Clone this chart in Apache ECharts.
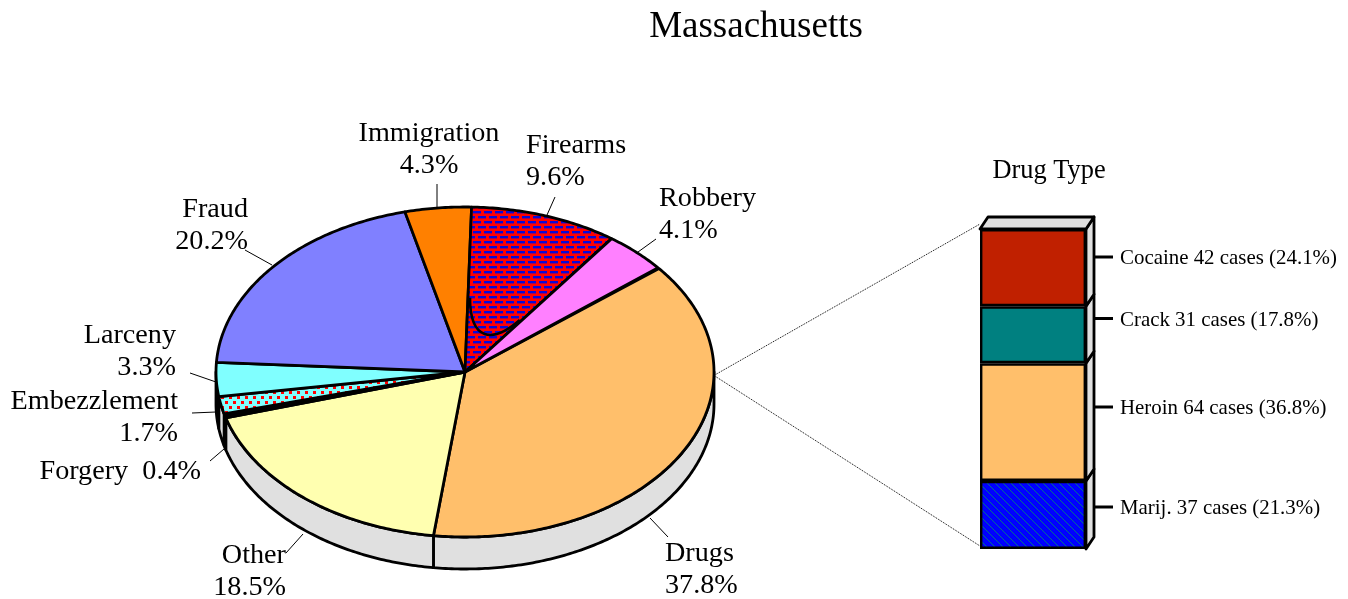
<!DOCTYPE html>
<html><head><meta charset="utf-8">
<script src="https://cdn.jsdelivr.net/npm/echarts@6/dist/echarts.min.js"></script>
<style>html,body{margin:0;padding:0;background:#fff}#c{width:1348px;height:599px}</style>
</head><body><div id="c"></div>
<script>
// ---- data ----
const offenseNames = ['Drugs','Other','Forgery','Embezzlement','Larceny','Fraud','Immigration','Firearms','Robbery'];
const offensePct   = [37.8,18.5,0.4,1.7,3.3,20.2,4.3,9.6,4.1];
const drugNames    = ['Marij.','Heroin','Crack','Cocaine'];
const drugCases    = [37,64,31,42];
const drugPct      = [21.3,36.8,17.8,24.1];

// ---- layout & style (not data) ----
const FONT = '"Liberation Serif","Times New Roman",serif';
const PIE = {cx:465, cy:372, rx:249, ry:165, depth:32, startDeg:-38.8};
const offenseFill = {Drugs:'#FFBF6B',Other:'#FFFFB0',Forgery:'#000000',Embezzlement:'dots',Larceny:'#80FFFF',Fraud:'#8080FF',Immigration:'#FF8000',Firearms:'bricks',Robbery:'#FF80FF'};
const labelLayout = {
  Drugs:{x:665,y:538,align:'left'}, Other:{x:286,y:540,align:'right'},
  Forgery:{x:201,y:456,align:'right',single:true}, Embezzlement:{x:178,y:385.5,align:'right'},
  Larceny:{x:176,y:320,align:'right'}, Fraud:{x:248,y:193.5,align:'right'},
  Immigration:{x:429,y:118,align:'center'}, Firearms:{x:526,y:130,align:'left'}, Robbery:{x:659,y:182.5,align:'left'}
};
const leaderLayout = {
  Drugs:[[650,518],[668,537]], Other:[[303,534],[286,553]], Forgery:[[224,449],[210,461]],
  Embezzlement:[[216,412],[192,413]], Larceny:[[216,382],[190,373]], Fraud:[[272,265],[245,250]],
  Immigration:[[437,207],[437,184]], Firearms:[[547,215],[555,197]], Robbery:[[638,252],[656,239]]
};
const drugFill = {'Marij.':'hatch',Heroin:'#FFBF6B',Crack:'#008080',Cocaine:'#C02000'};
const drugTickY = {'Marij.':507,Heroin:407,Crack:318.5,Cocaine:257};
const BAR = {left:980, top:229, width:106, height:320, dx:8, dy:-12};

function tile(w,h,bg,draw){const c=document.createElement('canvas');c.width=w;c.height=h;const g=c.getContext('2d');g.fillStyle=bg;g.fillRect(0,0,w,h);draw(g);return {image:c,repeat:'repeat'};}
const patterns = {
  bricks: tile(22,10,'#FF0000',g=>{g.fillStyle='#0808D8';g.fillRect(0,1,8,2.4);g.fillRect(11,1,8,2.4);g.fillRect(5,6,8,2.4);g.fillRect(16,6,6,2.4);g.fillRect(0,6,2,2.4);}),
  dots: tile(16,10,'#80FFFF',g=>{g.fillStyle='#FF0000';g.fillRect(1,1,3,3);g.fillRect(9,1,3,3);g.fillRect(5,6,3,3);g.fillRect(13,6,3,3);}),
  hatch: tile(8,8,'#0000FF',g=>{g.fillStyle='#00708C';for(let i=0;i<8;i++){g.fillRect(i,i,1,1);}})
};
const fillOf = v => patterns[v] || v;

// slice angles derive from the percentages
const sliceAngles = []; { let a=PIE.startDeg; offensePct.forEach(p=>{sliceAngles.push([a,a+p*3.6]);a+=p*3.6;}); }
const ell=(deg,dy=0)=>{const t=deg*Math.PI/180;return [PIE.cx+PIE.rx*Math.cos(t),PIE.cy+PIE.ry*Math.sin(t)+dy];};
const rel=(u,v)=>[PIE.cx+PIE.rx*u,PIE.cy+PIE.ry*v];
function arc(a,b,dy=0){const n=Math.max(2,Math.ceil(Math.abs(b-a)/0.7));const o=[];for(let i=0;i<=n;i++)o.push(ell(a+(b-a)*i/n,dy));return o;}
const STROKE={stroke:'#000',lineWidth:2.8,lineJoin:'round'};

// cumulative drug stack
const drugCum=[];{let s=0;drugCases.forEach(v=>{drugCum.push([s,s+v]);s+=v;});}
const drugTotal=drugCum[drugCum.length-1][1];

const chart=echarts.init(document.getElementById('c'),null,{renderer:'canvas'});
chart.setOption({
  animation:false,
  title:[
    {text:'Massachusetts',left:751,top:4,textAlign:'center',textStyle:{fontFamily:FONT,fontSize:37,fontWeight:'normal',color:'#000'}},
    {text:'Drug Type',left:1044,top:153,textAlign:'center',textStyle:{fontFamily:FONT,fontSize:26.4,fontWeight:'normal',color:'#000'}}
  ],
  grid:{left:BAR.left,top:BAR.top,width:BAR.width,height:BAR.height},
  xAxis:{type:'category',data:['Drug Type'],show:false,boundaryGap:true},
  yAxis:{type:'value',min:0,max:drugTotal,show:false},
  series:[
    // pie side wall
    {type:'custom',name:'wall',coordinateSystem:'none',z:1,silent:true,
     data:offensePct.map((v,i)=>({name:offenseNames[i],value:v})),
     renderItem:(p,api)=>{const i=p.dataIndex;const a=Math.max(sliceAngles[i][0],0),b=Math.min(sliceAngles[i][1],180);
       if(b<=a)return {type:'group',children:[]};
       const top=arc(a,b),bot=arc(b,a,PIE.depth);
       return {type:'polygon',shape:{points:top.concat(bot)},style:{fill:offenseNames[i]==='Forgery'?'#000':'#E0E0E0',...STROKE}};}},
    // pie top
    {type:'custom',name:'Offense',coordinateSystem:'none',z:2,silent:true,
     data:offensePct.map((v,i)=>({name:offenseNames[i],value:v})),
     renderItem:(p,api)=>{const i=p.dataIndex;const [a,b]=sliceAngles[i];const n=offenseNames[i];
       const kids=[{type:'polygon',shape:{points:[[PIE.cx,PIE.cy]].concat(arc(a,b))},style:{fill:fillOf(offenseFill[n]),...STROKE}}];
       if(n==='Firearms'){kids.push({type:'path',shape:{pathData:(()=>{
           const A=rel(0.02,-0.45),B=rel(0.02,-0.19),C=rel(0.11,-0.17),D=rel(0.22,-0.315);
           return `M${A[0]} ${A[1]}C${B[0]} ${B[1]} ${C[0]} ${C[1]} ${D[0]} ${D[1]}`;})(),layout:'cover'},
           style:{fill:'none',stroke:'#000',lineWidth:2.6}});}
       return {type:'group',children:kids};}},
    // pie labels & leaders
    {type:'custom',name:'labels',coordinateSystem:'none',z:3,silent:true,
     data:offensePct.map((v,i)=>({name:offenseNames[i],value:v})),
     renderItem:(p,api)=>{const i=p.dataIndex;const n=offenseNames[i],L=labelLayout[n],T=leaderLayout[n],pct=offensePct[i].toFixed(1)+'%';
       return {type:'group',children:[
        {type:'line',shape:{x1:T[0][0],y1:T[0][1],x2:T[1][0],y2:T[1][1]},style:{stroke:'#000',lineWidth:1}},
        {type:'text',x:L.x,y:L.y,style:{text:L.single?(n+'  '+pct):(n+'\n'+pct),fill:'#000',font:'28.2px '+FONT,lineHeight:32,align:L.align,verticalAlign:'top'}}
       ]};}},
    // stacked bar
    ...drugNames.map((n,i)=>({type:'bar',name:n,stack:'drug',barWidth:'100%',z:3,silent:true,data:[drugCases[i]],
       itemStyle:{color:fillOf(drugFill[n]),borderColor:'#000',borderWidth:2.4}})),
    // bar depth, ticks, labels
    {type:'custom',name:'barDepth',coordinateSystem:'cartesian2d',z:2,silent:true,
     data:drugNames.map((n,i)=>[0,drugCum[i][0],drugCum[i][1]]),encode:{x:0,y:[1,2]},
     renderItem:(p,api)=>{const i=p.dataIndex;const lo=api.coord([0,api.value(1)]),hi=api.coord([0,api.value(2)]);const w=api.size([1,0])[0];
       const l=lo[0]-w/2,r=lo[0]+w/2,d=BAR;const kids=[
        {type:'polygon',shape:{points:[[r,lo[1]],[r+d.dx,lo[1]+d.dy],[r+d.dx,hi[1]+d.dy],[r,hi[1]]]},style:{fill:'#E0E0E0',...STROKE}}];
       if(i===drugNames.length-1)kids.push({type:'polygon',shape:{points:[[l,hi[1]],[l+d.dx,hi[1]+d.dy],[r+d.dx,hi[1]+d.dy],[r,hi[1]]]},style:{fill:'#E0E0E0',...STROKE}});
       return {type:'group',children:kids};}},
    {type:'custom',name:'barLabels',coordinateSystem:'cartesian2d',z:4,silent:true,
     data:drugNames.map((n,i)=>[0,drugCases[i],drugPct[i]]),encode:{x:0,y:1},
     renderItem:(p,api)=>{const i=p.dataIndex,n=drugNames[i],y=drugTickY[n];const c=api.coord([0,0]);const r=c[0]+api.size([1,0])[0]/2+BAR.dx;
       return {type:'group',children:[
         {type:'line',shape:{x1:r,y1:y,x2:r+19,y2:y},style:{stroke:'#000',lineWidth:3}},
         {type:'text',x:r+26,y:y+2,style:{text:`${n} ${api.value(1)} cases (${api.value(2).toFixed(1)}%)`,fill:'#000',font:'20.9px '+FONT,align:'left',verticalAlign:'middle'}}
       ]};}},
    // connectors from the Drugs slice to the bar
    {type:'custom',name:'connect',coordinateSystem:'cartesian2d',z:1,silent:true,
     data:[[0,0],[0,drugTotal]],encode:{x:0,y:1},
     renderItem:(p,api)=>{const c=api.coord([0,api.value(1)]);const l=c[0]-api.size([1,0])[0]/2;const s=ell(1.2);const top=p.dataIndex===1;
       return {type:'line',shape:{x1:s[0],y1:s[1],x2:l,y2:top?c[1]-5:c[1]-3},style:{stroke:'#000',lineWidth:1,lineDash:[1,1]}};}}
  ]
});
</script></body></html>
